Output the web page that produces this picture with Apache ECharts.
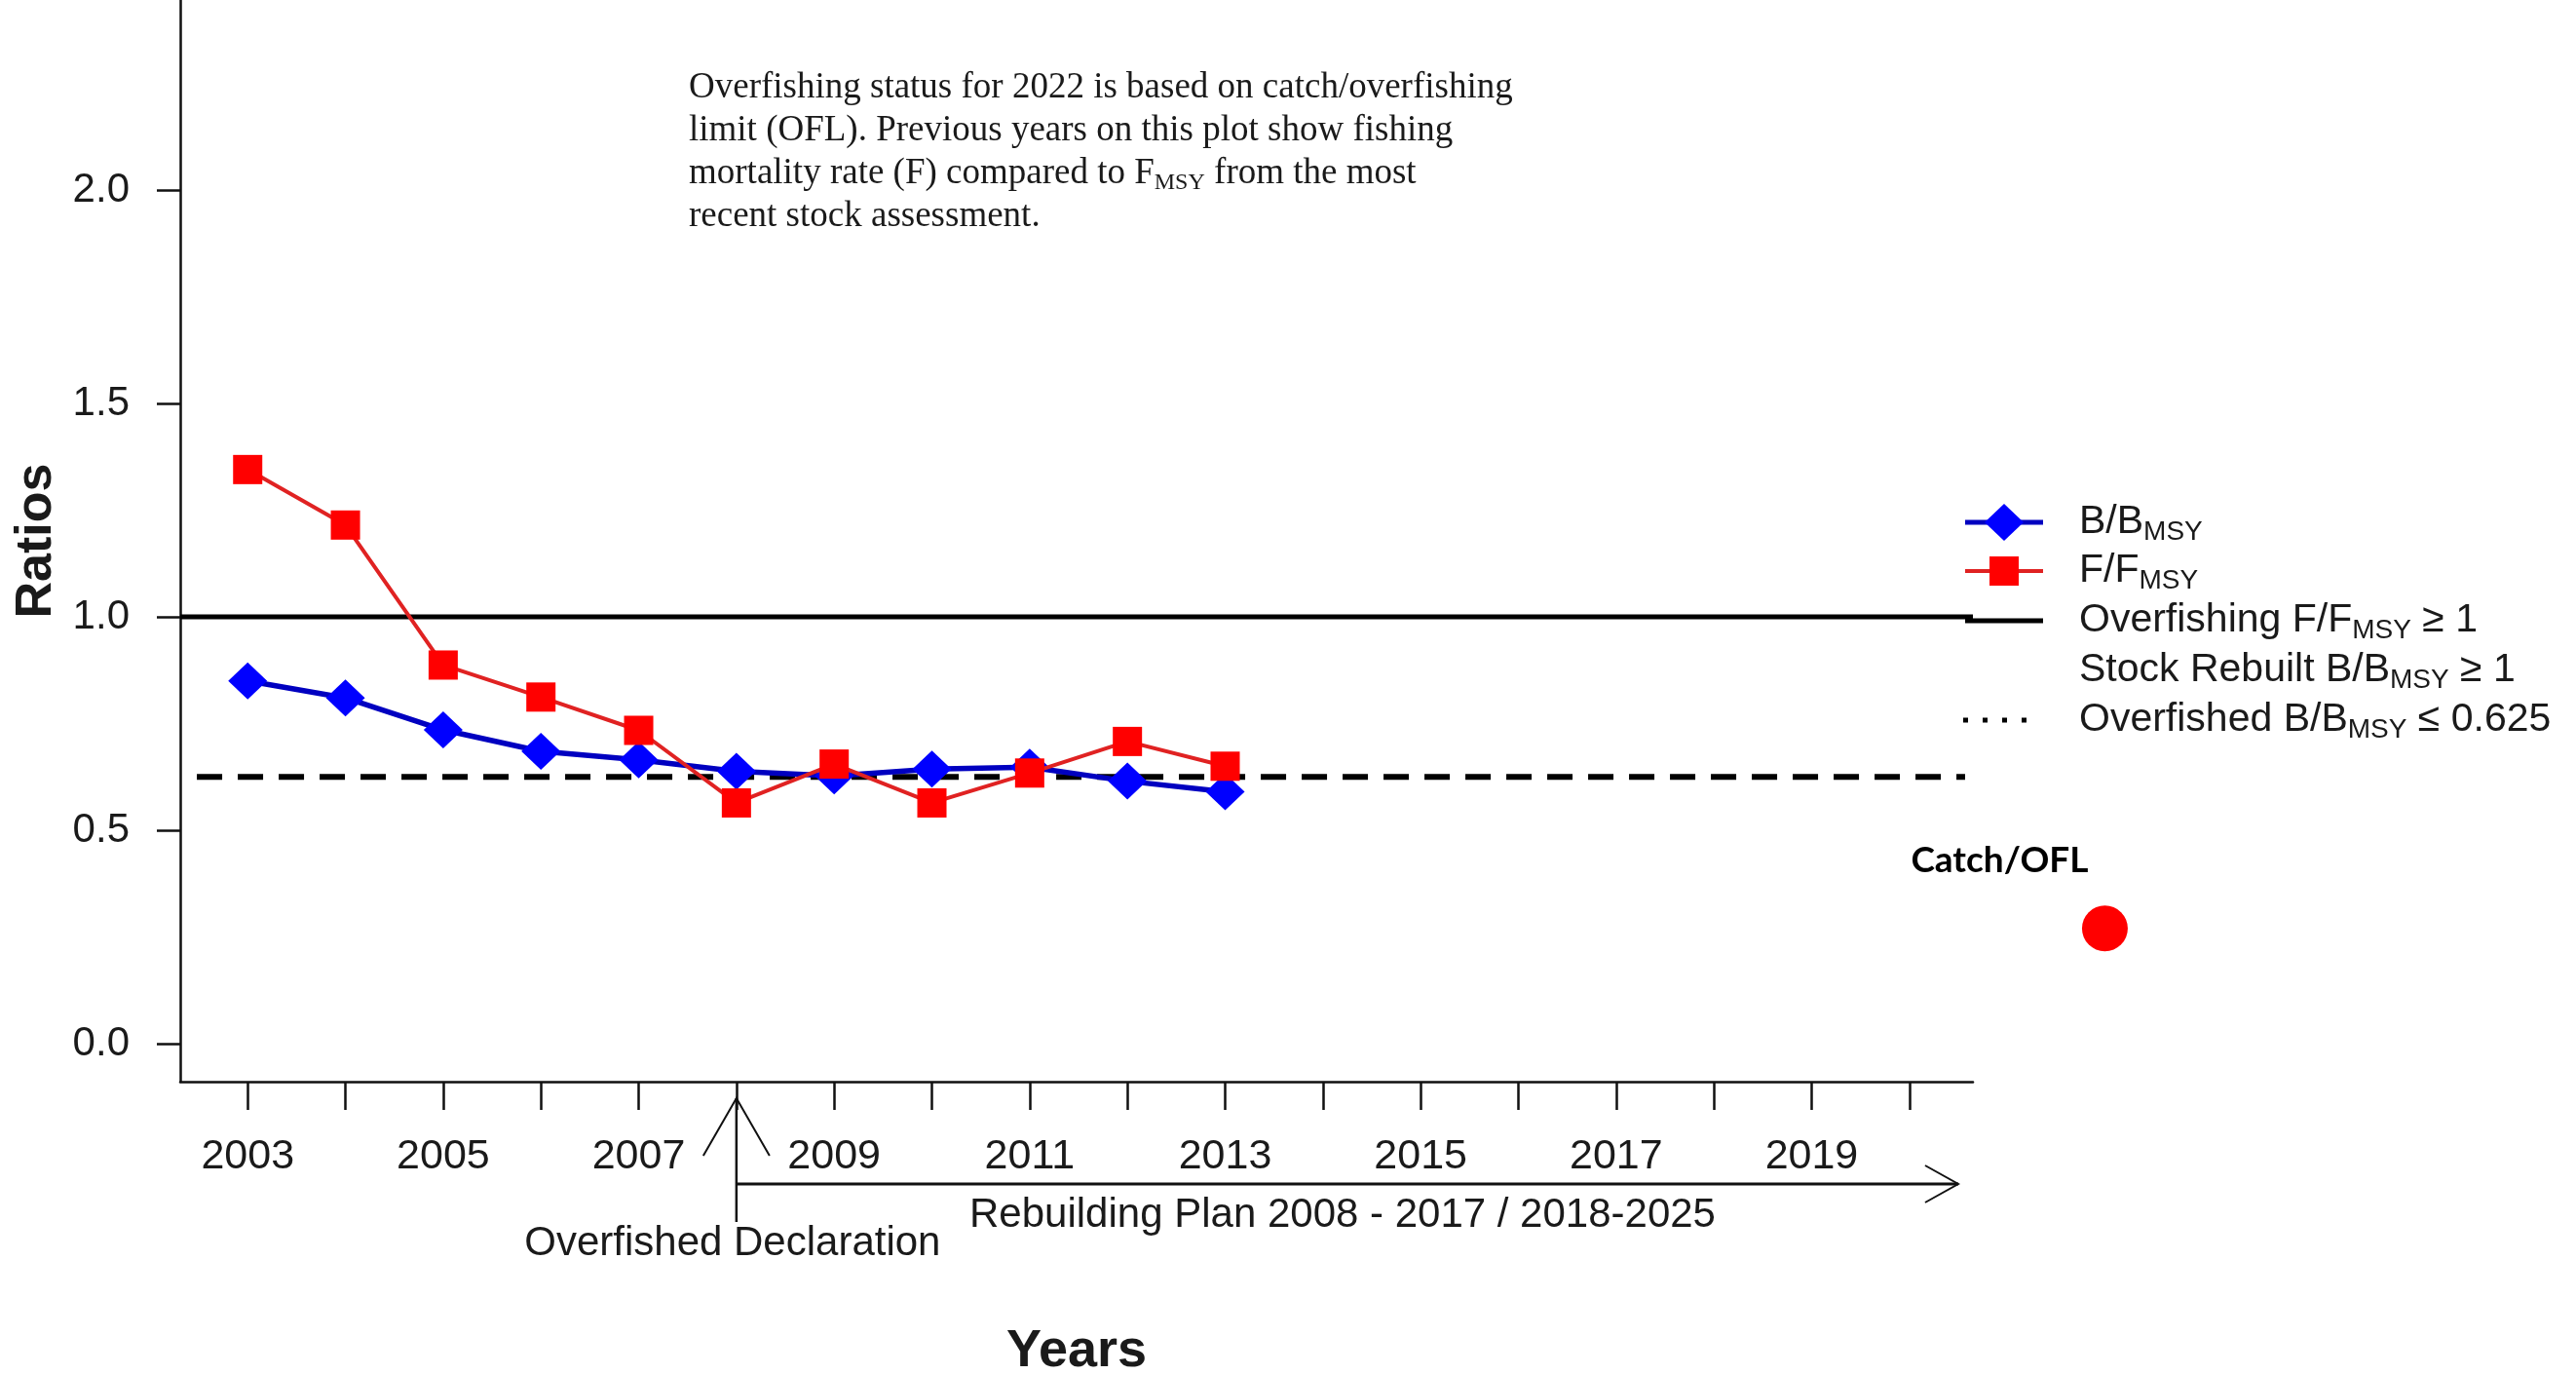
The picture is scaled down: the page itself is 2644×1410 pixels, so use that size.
<!DOCTYPE html>
<html><head><meta charset="utf-8">
<script src="https://cdn.jsdelivr.net/npm/echarts@6/dist/echarts.min.js"></script>
<style>html,body{margin:0;padding:0;background:#fff}#c{width:2644px;height:1410px}</style>
</head><body><div id="c"></div>
<script>
// ---- data ----
const years = [2003, 2004, 2005, 2006, 2007, 2008, 2009, 2010, 2011, 2012, 2013];
const bRatio = [0.85, 0.81, 0.735, 0.685, 0.665, 0.638, 0.627, 0.643, 0.648, 0.615, 0.59];
const fRatio = [1.345, 1.215, 0.887, 0.812, 0.734, 0.564, 0.655, 0.564, 0.634, 0.708, 0.65];
const catchYears = [2022];
const catchOFL = [0.27];
const overfishingLevel = 1.0;
const overfishedLevel = 0.625;
const xTickYears = [2003, 2004, 2005, 2006, 2007, 2008, 2009, 2010, 2011, 2012, 2013, 2014, 2015, 2016, 2017, 2018, 2019, 2020];
const xLabelYears = [2003, 2005, 2007, 2009, 2011, 2013, 2015, 2017, 2019];
const yTickValues = [0, 0.5, 1.0, 1.5, 2.0];
const declarationYear = 2008;
const rebuildArrowEndYear = 2020.5;
const xExtent = [2002.31, 2020.65];
const yExtent = [-0.089, 2.445];
const dashedExtent = [2002.48, 2020.57];

const SANS = "'Liberation Sans', Arial, sans-serif";
const SERIF = "'Liberation Serif', 'Times New Roman', serif";
const TXT = '#1a1a1a';

const chart = echarts.init(document.getElementById('c'));

const option = {
  backgroundColor: '#fff',
  animation: false,
  grid: { left: 185, right: 619, top: 0, bottom: 300, outerBoundsMode: 'none', containLabel: false },
  xAxis: {
    type: 'value', min: xExtent[0], max: xExtent[1],
    name: 'Years', nameLocation: 'middle', nameGap: 250,
    nameTextStyle: { fontFamily: SANS, fontSize: 54, fontWeight: 'bold', color: TXT },
    axisLine: { show: true, onZero: false, lineStyle: { color: '#111', width: 2.5 } },
    axisTick: { show: true, customValues: xTickYears, length: 29, lineStyle: { color: '#111', width: 2.5 } },
    axisLabel: { customValues: xLabelYears, margin: 56, fontFamily: SANS, fontSize: 43, color: TXT,
      formatter: v => String(Math.round(v)) },
    splitLine: { show: false }
  },
  yAxis: {
    type: 'value', min: yExtent[0], max: yExtent[1],
    name: 'Ratios', nameLocation: 'middle', nameRotate: 90, nameGap: 118,
    nameTextStyle: { fontFamily: SANS, fontSize: 52, fontWeight: 'bold', color: TXT },
    axisLine: { show: true, onZero: false, lineStyle: { color: '#111', width: 2.5 } },
    axisTick: { show: true, customValues: yTickValues, length: 24, lineStyle: { color: '#111', width: 2.5 } },
    axisLabel: { customValues: yTickValues, margin: 52, fontFamily: SANS, fontSize: 42, color: TXT,
      formatter: v => v.toFixed(1) },
    splitLine: { show: false }
  },
  series: [
    {
      name: 'Overfishing', type: 'line', symbol: 'none', silent: true, z: 1,
      data: [[xExtent[0], overfishingLevel], [xExtent[1], overfishingLevel]],
      lineStyle: { color: '#000', width: 5 }
    },
    {
      name: 'Overfished', type: 'line', symbol: 'none', silent: true, z: 1,
      data: [[dashedExtent[0], overfishedLevel], [dashedExtent[1], overfishedLevel]],
      lineStyle: { color: '#000', width: 6, type: [26, 16] }
    },
    {
      name: 'B/BMSY', type: 'line', z: 3,
      data: years.map((y, i) => [y, bRatio[i]]),
      symbol: 'diamond', symbolSize: [40, 38],
      itemStyle: { color: '#0000FF' },
      lineStyle: { color: '#0000C0', width: 5.5 }
    },
    {
      name: 'F/FMSY', type: 'line', z: 4,
      data: years.map((y, i) => [y, fRatio[i]]),
      symbol: 'rect', symbolSize: [30, 30],
      itemStyle: { color: '#FF0000' },
      lineStyle: { color: '#E02222', width: 4 }
    },
    {
      name: 'Catch/OFL', type: 'scatter', clip: false, z: 5,
      data: catchYears.map((y, i) => [y, catchOFL[i]]),
      symbol: 'circle', symbolSize: 47,
      itemStyle: { color: '#FF0000', opacity: 1 },
      label: { show: true, formatter: 'Catch/OFL', position: 'inside', offset: [-108, -70],
        fontFamily: "Lato, 'Open Sans', sans-serif", fontWeight: 'bold', fontSize: 37, color: '#000' }
    }
  ]
};
chart.setOption(option);

// ---- annotations & legend (graphic) ----
const axisBottom = chart.convertToPixel({ yAxisIndex: 0 }, yExtent[0]);
const xDecl = chart.convertToPixel({ xAxisIndex: 0 }, declarationYear);
const xEnd = chart.convertToPixel({ xAxisIndex: 0 }, rebuildArrowEndYear);

const legLeft = 2017, legRight = 2097, legMid = 2057, legText = 2134;
const rows = [536, 586, 637, 688, 739];
function subRich(mainSize, subSize, pad, lh) {
  return {
    m: { fontFamily: SANS, fontSize: mainSize, fill: TXT, lineHeight: lh },
    s: { fontFamily: SANS, fontSize: subSize, fill: TXT, lineHeight: lh - pad, padding: [pad, 0, 0, 0] }
  };
}
function legendText(y, txt) {
  return { type: 'text', x: legText, y: y, silent: true,
    style: { text: txt, rich: subRich(41, 28, 20, 50), fontFamily: SANS, fontSize: 41, fill: TXT,
      verticalAlign: 'middle', align: 'left' } };
}
const gfx = [
  // legend rows
  { type: 'line', shape: { x1: legLeft, y1: rows[0], x2: legRight, y2: rows[0] }, style: { stroke: '#0000C0', lineWidth: 5 } },
  { type: 'polygon', shape: { points: [[legMid, rows[0] - 19], [legMid + 20, rows[0]], [legMid, rows[0] + 19], [legMid - 20, rows[0]]] }, style: { fill: '#0000FF' } },
  legendText(rows[0], '{m|B/B}{s|MSY}'),
  { type: 'line', shape: { x1: legLeft, y1: rows[1], x2: legRight, y2: rows[1] }, style: { stroke: '#E02222', lineWidth: 4 } },
  { type: 'rect', shape: { x: legMid - 15, y: rows[1] - 15, width: 30, height: 30 }, style: { fill: '#FF0000' } },
  legendText(rows[1], '{m|F/F}{s|MSY}'),
  { type: 'line', shape: { x1: legLeft, y1: rows[2], x2: legRight, y2: rows[2] }, style: { stroke: '#000', lineWidth: 5 } },
  legendText(rows[2], '{m|Overfishing F/F}{s|MSY}{m| ≥ 1}'),
  legendText(rows[3], '{m|Stock Rebuilt B/B}{s|MSY}{m| ≥ 1}'),
  { type: 'line', shape: { x1: legLeft - 2, y1: rows[4], x2: legRight - 6, y2: rows[4] }, style: { stroke: '#000', lineWidth: 5, lineDash: [5, 15] } },
  legendText(rows[4], '{m|Overfished B/B}{s|MSY}{m| ≤ 0.625}'),
  // note text
  { type: 'text', x: 707, y: 68, silent: true,
    style: {
      text: 'Overfishing status for 2022 is based on catch/overfishing\nlimit (OFL). Previous years on this plot show fishing\nmortality rate (F) compared to F{s|MSY} from the most\nrecent stock assessment.',
      fontFamily: SERIF, fontSize: 37, lineHeight: 44, fill: TXT, align: 'left', verticalAlign: 'top',
      rich: { s: { fontFamily: SERIF, fontSize: 24, lineHeight: 24, padding: [20, 0, 0, 0], fill: TXT } }
    } },
  // overfished declaration arrow
  { type: 'polyline', shape: { points: [[xDecl, axisBottom + 17], [xDecl, axisBottom + 144]] }, style: { stroke: '#111', lineWidth: 2.5 } },
  { type: 'polyline', shape: { points: [[xDecl - 34, axisBottom + 76], [xDecl, axisBottom + 17], [xDecl + 34, axisBottom + 76]] }, style: { stroke: '#111', lineWidth: 2, fill: null } },
  { type: 'text', x: xDecl - 4, y: axisBottom + 166, silent: true,
    style: { text: 'Overfished Declaration', fontFamily: SANS, fontSize: 42, fill: TXT, align: 'center', verticalAlign: 'middle' } },
  // rebuilding plan arrow
  { type: 'polyline', shape: { points: [[xDecl, axisBottom + 105], [xEnd, axisBottom + 105]] }, style: { stroke: '#111', lineWidth: 3 } },
  { type: 'polyline', shape: { points: [[xEnd - 34, axisBottom + 86], [xEnd, axisBottom + 105], [xEnd - 34, axisBottom + 124]] }, style: { stroke: '#111', lineWidth: 2, fill: null } },
  { type: 'text', x: 1378, y: axisBottom + 137, silent: true,
    style: { text: 'Rebuilding Plan 2008 - 2017 / 2018-2025', fontFamily: SANS, fontSize: 42, fill: TXT, align: 'center', verticalAlign: 'middle' } }
];
chart.setOption({ graphic: gfx });
</script></body></html>
